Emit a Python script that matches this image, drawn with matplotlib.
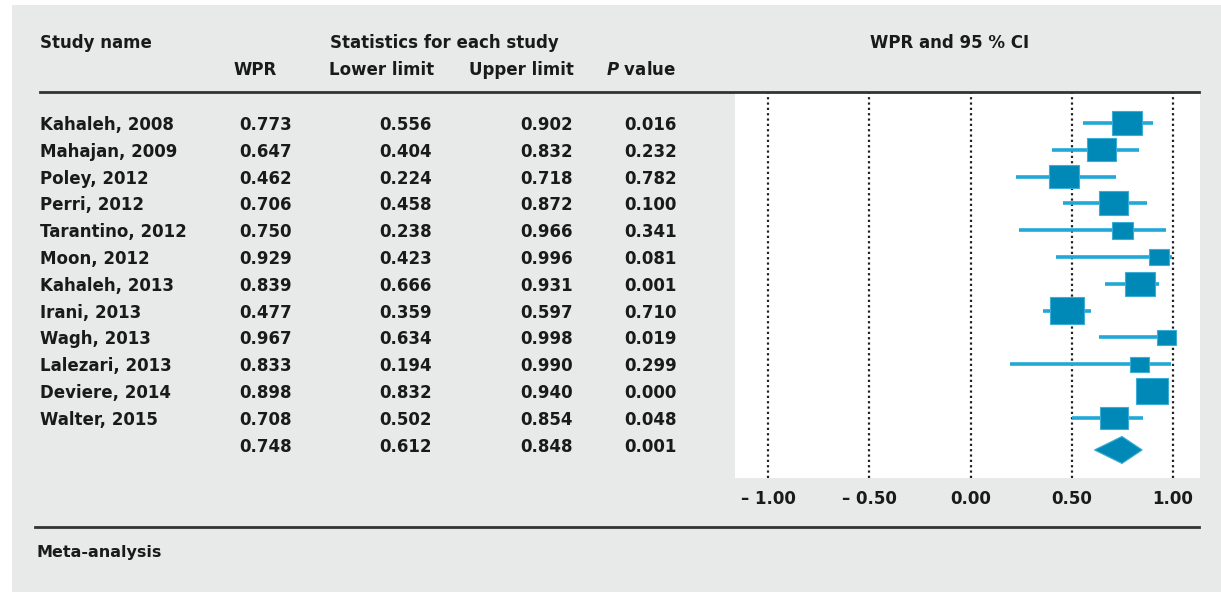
import numpy as np
import matplotlib.pyplot as plt
from matplotlib.patches import Rectangle, Polygon
from matplotlib.lines import Line2D
from matplotlib.transforms import blended_transform_factory

# Data
studies = ['Kahaleh, 2008', 'Mahajan, 2009', 'Poley, 2012', 'Perri, 2012', 'Tarantino, 2012',
           'Moon, 2012', 'Kahaleh, 2013', 'Irani, 2013', 'Wagh, 2013', 'Lalezari, 2013',
           'Deviere, 2014', 'Walter, 2015']
wpr = [0.773, 0.647, 0.462, 0.706, 0.750, 0.929, 0.839, 0.477, 0.967, 0.833, 0.898, 0.708]
lower = [0.556, 0.404, 0.224, 0.458, 0.238, 0.423, 0.666, 0.359, 0.634, 0.194, 0.832, 0.502]
upper = [0.902, 0.832, 0.718, 0.872, 0.966, 0.996, 0.931, 0.597, 0.998, 0.990, 0.940, 0.854]
pvals = [0.016, 0.232, 0.782, 0.100, 0.341, 0.081, 0.001, 0.710, 0.019, 0.299, 0.000, 0.048]
# relative weights
weights = [9.1, 9.0, 9.1, 9.3, 6.6, 6.3, 9.4, 10.6, 6.0, 6.0, 10.0, 8.8]
summary = (0.748, 0.612, 0.848, 0.001)
ticks = [-1.0, -0.5, 0.0, 0.5, 1.0]
tick_labels = ['\u2013 1.00', '\u2013 0.50', '0.00', '0.50', '1.00']

W, H = 1221, 592
box_col = '#0088b6'
ci_col = '#22a8d6'
txt_col = '#1a1a1a'
plt.rcParams['font.family'] = ['DejaVu Sans']
plt.rcParams['font.weight'] = 'bold'

fig = plt.figure(figsize=(W/100, H/100), dpi=100, facecolor='white')
fig.add_artist(Rectangle((12/W, 0), 1 - 12/W, 1 - 5/H, transform=fig.transFigure,
                         facecolor='#e8eae9', edgecolor='none', zorder=0))

def fx(x):
    return x / W

def fy(y):
    return 1 - y / H

# forest plot axes
px_per_unit = 202.5
row_px = 26.8
ax = fig.add_axes([fx(735), fy(478), fx(1200) - fx(735), (478 - 93) / H])
ax.set_facecolor('white')
ax.set_xlim(-1 - 33/px_per_unit, 1 + 27/px_per_unit)
ax.set_ylim((478 - 123)/row_px, (93 - 123)/row_px)
for s in ax.spines.values():
    s.set_visible(False)
ax.set_yticks([])
ax.set_xticks(ticks, tick_labels)
ax.tick_params(axis='x', length=0, pad=9, labelsize=12, colors=txt_col)
for t in ticks:
    ax.axvline(t, color='#222222', lw=1.6, ls=(0, (1, 1.4)), zorder=1)

for i in range(len(studies)):
    ax.plot([lower[i], upper[i]], [i, i], color=ci_col, lw=2.6, zorder=2, solid_capstyle='butt')
    bw = 3.2 * weights[i]
    bh = 0.8 * bw
    w = bw / px_per_unit
    h = bh / row_px
    ax.add_patch(Rectangle((wpr[i] - w/2, i - h/2), w, h, facecolor=box_col,
                           edgecolor='#3aaed8', lw=0.8, zorder=3))

ys = len(studies) + 0.2
dh = 27 / row_px / 2
ax.add_patch(Polygon([[summary[1], ys], [summary[0], ys - dh], [summary[2], ys], [summary[0], ys + dh]],
                     closed=True, facecolor=box_col, edgecolor='#3aaed8', lw=0.8, zorder=3))

# table text
tr = blended_transform_factory(fig.transFigure, ax.transData)
kw = dict(transform=tr, fontsize=12, color=txt_col, va='center_baseline', fontweight='bold')
for i in range(len(studies)):
    fig.text(fx(40), i, studies[i], ha='left', **kw)
    fig.text(fx(292), i, f'{wpr[i]:.3f}', ha='right', **kw)
    fig.text(fx(432), i, f'{lower[i]:.3f}', ha='right', **kw)
    fig.text(fx(573), i, f'{upper[i]:.3f}', ha='right', **kw)
    fig.text(fx(677), i, f'{pvals[i]:.3f}', ha='right', **kw)
n = len(studies)
fig.text(fx(292), n, f'{summary[0]:.3f}', ha='right', **kw)
fig.text(fx(432), n, f'{summary[1]:.3f}', ha='right', **kw)
fig.text(fx(573), n, f'{summary[2]:.3f}', ha='right', **kw)
fig.text(fx(677), n, f'{summary[3]:.3f}', ha='right', **kw)

# headers
hk = dict(fontsize=12, color=txt_col, va='center', fontweight='bold')
fig.text(fx(40), fy(43), 'Study name', ha='left', **hk)
fig.text(fx(444), fy(43), 'Statistics for each study', ha='center', **hk)
fig.text(fx(950), fy(43), 'WPR and 95 % CI', ha='center', **hk)
fig.text(fx(277), fy(70), 'WPR', ha='right', **hk)
fig.text(fx(434), fy(70), 'Lower limit', ha='right', **hk)
fig.text(fx(574), fy(70), 'Upper limit', ha='right', **hk)
fig.text(fx(676), fy(70), '$\\mathbfit{P}$ value', ha='right', **hk)
fig.text(fx(37), fy(553), 'Meta-analysis', ha='left', fontsize=11.5, color=txt_col,
         va='center', fontweight='bold')

# rules
fig.add_artist(Line2D([fx(40), fx(1199)], [fy(92), fy(92)], color='#333333', lw=2))
fig.add_artist(Line2D([fx(35), fx(1199)], [fy(527), fy(527)], color='#333333', lw=2))

fig.savefig('out.png', dpi=100, facecolor=fig.get_facecolor())
